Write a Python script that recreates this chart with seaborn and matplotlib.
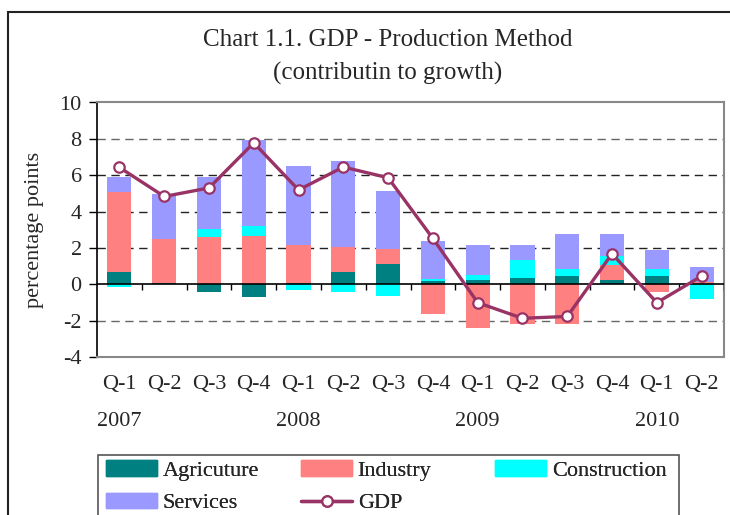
import numpy as np
import pandas as pd
import matplotlib
matplotlib.use("Agg")
import matplotlib.pyplot as plt
import matplotlib.patches as mpatches
from matplotlib.lines import Line2D
import seaborn as sns

# ---- data ----
quarters = ["Q-1", "Q-2", "Q-3", "Q-4", "Q-1", "Q-2", "Q-3", "Q-4",
            "Q-1", "Q-2", "Q-3", "Q-4", "Q-1", "Q-2"]
years = ["2007", "", "", "", "2008", "", "", "", "2009", "", "", "", "2010", ""]
agriculture = [0.67, 0.09, -0.41, -0.68, 0.07, 0.67, 1.10, 0.18, 0.23, 0.34, 0.45, 0.23, 0.45, 0.02]
industry = [4.43, 2.38, 2.61, 2.67, 2.11, 1.40, 0.86, -1.66, -2.41, -2.20, -2.20, 0.83, -0.41, 0.12]
construction = [-0.14, 0.0, 0.43, 0.56, -0.31, -0.41, -0.63, 0.13, 0.27, 0.98, 0.40, 0.47, 0.40, -0.81]
services = [0.81, 2.47, 2.86, 4.68, 4.32, 4.72, 3.19, 2.09, 1.68, 0.86, 1.92, 1.24, 1.06, 0.80]
gdp = [6.43, 4.83, 5.30, 7.78, 5.19, 6.45, 5.86, 2.52, -1.01, -1.87, -1.77, 1.68, -1.01, 0.45]

series_names = ["Agricuture", "Industry", "Construction", "Services"]
series_vals = [agriculture, industry, construction, services]
series_colors = ["#008080", "#FF8080", "#00FFFF", "#9999FF"]
gdp_color = "#993366"

sns.set_theme(style="white")
plt.rcParams["font.family"] = ["Liberation Serif", "DejaVu Serif"]

FS = 16

fig = plt.figure(figsize=(7.3, 5.15), dpi=100)
W, H = 730, 515
ax = fig.add_axes([97 / W, 1 - 357 / H, (724 - 97) / W, (357 - 102.5) / H])

x = np.arange(len(quarters))
df = pd.DataFrame({"x": x, "gdp": gdp})

# stacked bars (positives and negatives stacked separately)
pos_bottom = np.zeros(len(x))
neg_bottom = np.zeros(len(x))
for name, vals, col in zip(series_names, series_vals, series_colors):
    v = np.array(vals)
    bottoms = np.where(v >= 0, pos_bottom, neg_bottom)
    ax.bar(x, v, bottom=bottoms, width=0.54, color=col, edgecolor="none", zorder=2)
    pos_bottom = pos_bottom + np.where(v >= 0, v, 0)
    neg_bottom = neg_bottom + np.where(v < 0, v, 0)

sns.lineplot(data=df, x="x", y="gdp", ax=ax, color=gdp_color, linewidth=2.4,
             marker="o", markersize=7.5, markerfacecolor="white",
             markeredgecolor=gdp_color, markeredgewidth=1.6, zorder=4)

ax.set_xlim(-0.5, len(x) - 0.5)
ax.set_ylim(-4, 10)
ax.set_yticks(np.arange(-4, 11, 2))
ax.set_yticklabels([str(v) for v in range(-4, 11, 2)], fontsize=FS)
ax.tick_params(axis="y", direction="out", length=6, width=1, color="black", pad=5, left=True)
ax.set_xticks([])
ax.set_xlabel("")
ax.set_ylabel("percentage points", fontsize=FS)
ax.yaxis.set_label_coords((44 - 97) / (724 - 97), 0.5)

for yv in [2, 4, 6]:
    ax.axhline(yv, color="#222222", linestyle=(0, (6, 4)), linewidth=1, zorder=1)
for yv in [-2, 8]:
    ax.axhline(yv, color="#666666", linestyle=(0, (6, 4)), linewidth=1, zorder=1)

# zero axis with ticks between categories
ax.axhline(0, color="black", linewidth=1.2, zorder=3)
bounds = np.arange(0.5, len(x) - 0.5, 1.0)
ax.vlines(bounds, -0.33, 0, color="black", linewidth=1, zorder=3)
ax.vlines([len(x) - 0.5], -0.33, 0, color="black", linewidth=1, zorder=3)

for side in ["top", "right", "bottom"]:
    ax.spines[side].set_color("#888888")
    ax.spines[side].set_linewidth(1.5)
ax.spines["left"].set_color("black")
ax.spines["left"].set_linewidth(1.2)

trans = matplotlib.transforms.blended_transform_factory(ax.transData, fig.transFigure)
for i, (q, yr) in enumerate(zip(quarters, years)):
    ax.text(i, 1 - 384 / H, q, transform=trans, ha="center", va="center", fontsize=FS)
    if yr:
        ax.text(i, 1 - 422 / H, yr, transform=trans, ha="center", va="center", fontsize=FS)

fig.text(388 / W, 1 - 40 / H, "Chart 1.1. GDP - Production Method", ha="center", va="center", fontsize=18)
fig.text(388 / W, 1 - 73 / H, "(contributin to growth)", ha="center", va="center", fontsize=18)

# outer chart border
fig.patches.append(mpatches.Rectangle((8 / W, -0.1), 1.2, 1 - 12 / H + 0.1, transform=fig.transFigure,
                                      fill=False, edgecolor="#222222", linewidth=1.5))
# legend box
fig.patches.append(mpatches.Rectangle((98 / W, -0.1), (679 - 98) / W, 0.1 + 1 - 455 / H,
                                      transform=fig.transFigure, fill=False,
                                      edgecolor="#555555", linewidth=1.2))

handles = [mpatches.Patch(color=c) for c in series_colors]
gdp_handle = Line2D([], [], color=gdp_color, linewidth=2.4, marker="o", markersize=7.5,
                    markerfacecolor="white", markeredgecolor=gdp_color, markeredgewidth=1.6)
cols = [([handles[0], handles[3]], [series_names[0], series_names[3]], 106),
        ([handles[1], gdp_handle], [series_names[1], "GDP"], 301),
        ([handles[2]], [series_names[2]], 495)]
for hs, ls, xpx in cols:
    leg = fig.legend(hs, ls, loc="upper left", bbox_to_anchor=(xpx / W, 1 - 460 / H),
                     bbox_transform=fig.transFigure, frameon=False, fontsize=FS,
                     handlelength=2.3, handleheight=0.7, handletextpad=0.25,
                     labelspacing=0.55, borderpad=0.0, borderaxespad=0)
    fig.add_artist(leg)

fig.savefig("out.png", dpi=100)
